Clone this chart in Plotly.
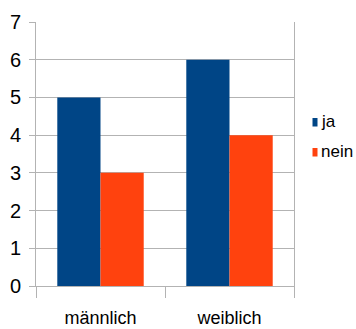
import plotly.graph_objects as go

# Data
categories = ["männlich", "weiblich"]
ja_values = [5, 6]
nein_values = [3, 4]
series_names = ["ja", "nein"]
series_colors = ["#004586", "#ff420e"]
y_ticks = [0, 1, 2, 3, 4, 5, 6, 7]

FONT = "Liberation Sans, Arial, sans-serif"
GRID = "#b3b3b3"

W, H = 356, 329
L, R, T, B = 36, 62, 22, 43
plot_w = W - L - R
plot_h = H - T - B

fig = go.Figure()
for name, vals, color in zip(series_names, [ja_values, nein_values], series_colors):
    fig.add_trace(go.Bar(
        x=categories, y=vals, name=name,
        marker=dict(color=color, line=dict(width=0)),
        showlegend=False,
    ))

# Hand-drawn legend to the right of the plot area
def px_x(px):
    return (px - L) / plot_w

def px_y(py):
    return (H - B - py) / plot_h

legend_rows = [122, 152]  # vertical centres of the legend keys (px)
shapes = []
annotations = []
for name, color, cy in zip(series_names, series_colors, legend_rows):
    shapes.append(dict(
        type="rect", xref="paper", yref="paper",
        x0=px_x(312.5), x1=px_x(317.5), y0=px_y(cy + 4.5), y1=px_y(cy - 4),
        fillcolor=color, line=dict(width=0),
    ))
    annotations.append(dict(
        xref="paper", yref="paper", x=px_x(319), y=px_y(cy - 1),
        xanchor="left", yanchor="middle", showarrow=False,
        text=name, font=dict(family=FONT, size=17, color="#000000"),
    ))

fig.update_layout(
    width=W, height=H,
    margin=dict(l=L, r=R, t=T, b=B, pad=0, autoexpand=False),
    paper_bgcolor="white", plot_bgcolor="white",
    barmode="group", bargap=0.33, bargroupgap=0,
    font=dict(family=FONT, size=18, color="#000000"),
    shapes=shapes, annotations=annotations,
)
fig.update_xaxes(
    type="category", automargin=False,
    showgrid=False,
    showline=True, linecolor=GRID, linewidth=1,
    ticks="outside", tickson="boundaries", ticklen=11, tickcolor=GRID, tickwidth=1,
    ticklabelstandoff=15,
    tickfont=dict(family=FONT, size=18, color="#000000"),
)
fig.update_yaxes(
    range=[0, 7], tickvals=y_ticks, automargin=False,
    showgrid=True, gridcolor=GRID, gridwidth=1,
    zeroline=False,
    showline=True, linecolor=GRID, linewidth=1, mirror=True,
    ticks="outside", ticklen=6, tickcolor=GRID, tickwidth=1,
    ticklabelstandoff=4,
    tickfont=dict(family=FONT, size=20, color="#000000"),
)

fig.write_html("out.html")
